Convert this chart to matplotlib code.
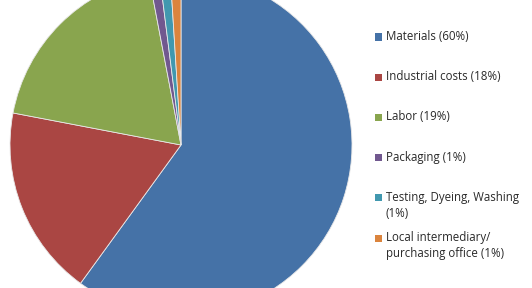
import matplotlib.pyplot as plt
from matplotlib.patches import Rectangle

labels = ["Materials (60%)", "Industrial costs (18%)", "Labor (19%)", "Packaging (1%)",
          "Testing, Dyeing, Washing\n(1%)", "Local intermediary/\npurchasing office (1%)"]
values = [60, 18, 19, 1, 1, 1]
colors = ["#4572A7", "#AA4643", "#89A54E", "#71588F", "#4198AF", "#DB843D"]

W, H = 532, 288
fig = plt.figure(figsize=(W / 100, H / 100), dpi=100)

# pie: centre (181,145) px, radius 171 px
cx, cy, r = 181, 145, 171
ax = fig.add_axes([(cx - r) / W, (H - cy - r) / H, 2 * r / W, 2 * r / H])
ax.pie(values, colors=colors, startangle=90, counterclock=False, radius=1,
       wedgeprops=dict(edgecolor="#e8e8e8", linewidth=0.6))
ax.set_xlim(-1, 1)
ax.set_ylim(-1, 1)
ax.axis("off")

# legend drawn by hand
row_y = [37, 77, 117, 157, 197.5, 238]
for lab, col, y in zip(labels, colors, row_y):
    fig.patches.append(Rectangle((375 / W, 1 - (y + 3.5) / H), 7 / W, 7 / H,
                                 transform=fig.transFigure, facecolor=col, edgecolor="none"))
    fig.text(386 / W, 1 - (y - 6.5) / H, lab, fontsize=8.3, family="Open Sans",
             va="top", ha="left", color="#2a2a2a", linespacing=1.3)

fig.savefig("out.png", dpi=100)
